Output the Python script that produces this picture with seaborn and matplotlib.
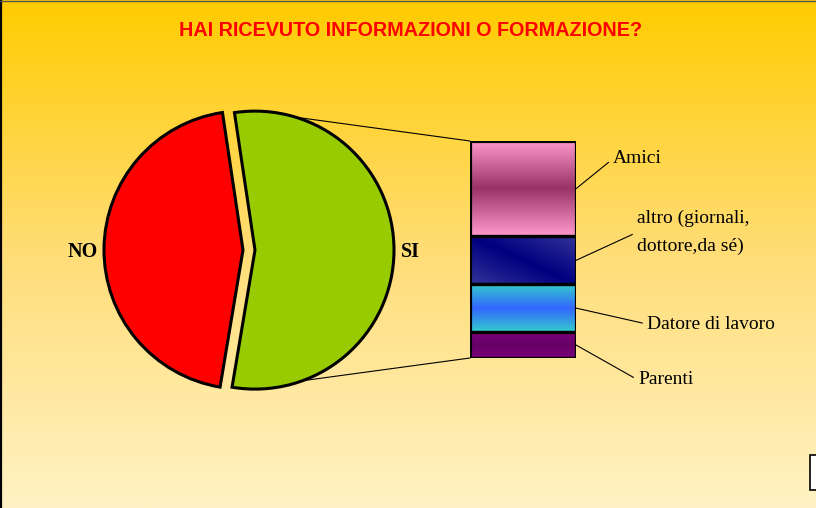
import numpy as np
import pandas as pd
import matplotlib
matplotlib.use("Agg")
import matplotlib.pyplot as plt
from matplotlib.colors import LinearSegmentedColormap
from matplotlib.patches import ConnectionPatch, Rectangle
import seaborn as sns

# dati
risposte = ["SI", "NO"]
quote = [55, 45]
fonti = ["Parenti", "Datore di lavoro", "altro (giornali,\ndottore,da sé)", "Amici"]
valori_fonti = [12, 22, 22, 44]
titolo = "HAI RICEVUTO INFORMAZIONI O FORMAZIONE?"

sns.set_theme(style="white")
plt.rcParams["font.family"] = ["Liberation Serif", "DejaVu Serif"]
plt.rcParams["text.color"] = "black"

W, H = 816, 508
fig = plt.figure(figsize=(W / 100, H / 100), dpi=100)

# sfondo sfumato
bg = fig.add_axes([0, 0, 1, 1])
bg_cmap = LinearSegmentedColormap.from_list("bg", ["#FFCC00", "#FFDD77", "#FFF2C4"])
bg.imshow(np.linspace(0, 1, 256).reshape(-1, 1), cmap=bg_cmap, aspect="auto",
          extent=[0, 1, 0, 1])
bg.set_xlim(0, 1)
bg.set_ylim(0, 1)
bg.axis("off")
bg.plot([0.001, 0.001], [0, 1], color="black", lw=1.6)
bg.plot([0, 1], [0.999, 0.999], color="#555555", lw=1)
bg.add_patch(Rectangle((810 / W, 1 - 490 / H), 0.02, 35 / H, facecolor="white",
                       edgecolor="black", lw=1.2))


def px_box(x0, y0, w, h):
    # pixel box (top-left origin) -> figure fraction
    return [x0 / W, 1 - (y0 + h) / H, w / W, h / H]


# torta
ax_pie = fig.add_axes(px_box(43, 50, 400, 400))
r = 139
wedges, _ = ax_pie.pie(quote, explode=[12, 0], startangle=-99.5, radius=r,
                       colors=["#99CC00", "#FF0000"],
                       wedgeprops=dict(edgecolor="black", linewidth=2.2))
ax_pie.set_xlim(-200, 200)
ax_pie.set_ylim(-200, 200)
ax_pie.set_aspect("equal")
ax_pie.axis("off")
ax_pie.text(-160, -2, "NO", ha="center", va="center", fontsize=14.5, fontweight="bold")
ax_pie.text(167, -2, "SI", ha="center", va="center", fontsize=14.5, fontweight="bold")

# barra impilata
df = pd.DataFrame({"fonte": fonti, "valore": valori_fonti})
df["base"] = df["valore"].cumsum() - df["valore"]
df["gruppo"] = "SI"

ax_bar = fig.add_axes(px_box(470, 141, 106, 217))
for _, row in df.iterrows():
    sns.barplot(x=[row["gruppo"]], y=[row["valore"]], bottom=row["base"],
                width=0.8, ax=ax_bar, color="white", edgecolor="black",
                linewidth=2.3, err_kws={"linewidth": 0})
ax_bar.set_xlim(-0.4, 0.4)
ax_bar.set_ylim(0, sum(valori_fonti))
ax_bar.axis("off")

gradienti = [
    ("v", ["#800080", "#660066", "#7A007A"]),
    ("v", ["#33CCCC", "#3366FF", "#33CCCC"]),
    ("d", ["#000080", "#333399"]),
    ("v", ["#FF99CC", "#993366", "#FF99CC"]),
]
for patch, (kind, cols) in zip(ax_bar.patches, gradienti):
    cm = LinearSegmentedColormap.from_list("g", cols)
    if kind == "v":
        img = np.linspace(0, 1, 128).reshape(-1, 1)
    else:
        gx, gy = np.meshgrid(np.linspace(0, 1, 128), np.linspace(0, 1, 128))
        img = np.abs(gx - gy)
    x0, y0 = patch.get_x(), patch.get_y()
    im = ax_bar.imshow(img, cmap=cm, aspect="auto", origin="upper",
                       extent=[x0, x0 + patch.get_width(), y0, y0 + patch.get_height()],
                       zorder=1)
    im.set_clip_path(patch)
    patch.set_facecolor("none")
    patch.set_zorder(3)
ax_bar.set_xlim(-0.4, 0.4)
ax_bar.set_ylim(0, sum(valori_fonti))

# linee di collegamento torta -> barra
si = wedges[0]
cx, cy = si.center
for ang, yb in [(73, sum(valori_fonti)), (-70, 0)]:
    a = np.deg2rad(ang)
    con = ConnectionPatch(xyA=(cx + r * np.cos(a), cy + r * np.sin(a)), coordsA=ax_pie.transData,
                          xyB=(-0.4, yb), coordsB=ax_bar.transData,
                          color="black", lw=0.8)
    fig.add_artist(con)

# etichette fonti
offsets = [(62, -35), (71, -16), (61, 28), (37, 30)]
for (_, row), off in zip(df.iterrows(), offsets):
    ax_bar.annotate(row["fonte"], xy=(0.4, row["base"] + row["valore"] / 2),
                    xytext=off, textcoords="offset pixels", ha="left", va="center",
                    fontsize=14, linespacing=1.75, annotation_clip=False,
                    arrowprops=dict(arrowstyle="-", lw=0.8, color="black",
                                    shrinkA=1, shrinkB=0, relpos=(0, 0.5)))

fig.text(0.503, 1 - 31 / H, titolo, ha="center", va="center", color="#FF0000",
         fontsize=14.2, fontweight="bold", family=["Liberation Sans", "DejaVu Sans"])

fig.savefig("out.png", dpi=100)
